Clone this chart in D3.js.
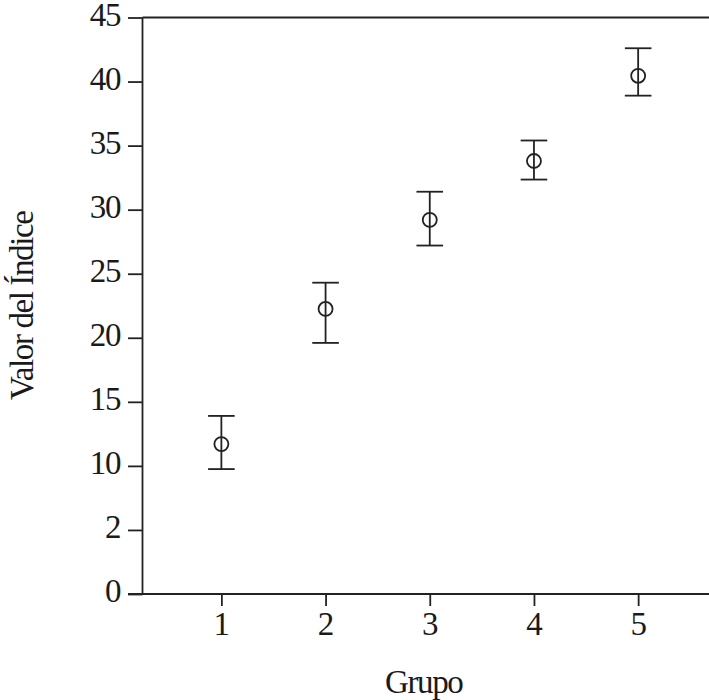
<!DOCTYPE html>
<html>
<head>
<meta charset="utf-8">
<script src="https://cdn.jsdelivr.net/npm/d3@7"></script>
<style>
  html, body { margin: 0; padding: 0; background: #fff; }
  svg { display: block; }
  text { font-family: "Liberation Serif", "Times New Roman", serif; fill: #1a1a1a; }
</style>
</head>
<body>
<svg id="chart" width="709" height="700"></svg>
<script>
// ---- data ----
const groups = [1, 2, 3, 4, 5];
const means  = [11.7, 22.25, 29.2, 33.8, 40.45];
const upper  = [13.9, 24.3, 31.4, 35.4, 42.6];
const lower  = [9.75, 19.6, 27.2, 32.35, 38.9];
const yTickValues = [0, 5, 10, 15, 20, 25, 30, 35, 40, 45];
const yTickLabels = ["0", "2", "10", "15", "20", "25", "30", "35", "40", "45"];
const xTickLabels = ["1", "2", "3", "4", "5"];
const xTitle = "Grupo";
const yTitle = "Valor del Índice";

// ---- layout ----
const plotLeft = 142.5, plotRight = 709, plotTop = 17.5, plotBottom = 594;
const ink = "#222222";
const sw = 1.8;
const fs = 33;
const ls = -1.4;

const svg = d3.select("#chart");

const x = d3.scaleLinear().domain([0.243, 5.68]).range([plotLeft, plotRight]);
const y = d3.scaleLinear().domain([0, 45]).range([plotBottom, plotTop]);

// Y axis
const yAxis = d3.axisLeft(y)
  .tickValues(yTickValues)
  .tickFormat((d, i) => yTickLabels[i])
  .tickSize(14.5)
  .tickPadding(8);
const gy = svg.append("g").attr("transform", `translate(${plotLeft},0)`).call(yAxis);
gy.select(".domain").remove();
gy.selectAll(".tick line").attr("stroke", ink).attr("stroke-width", sw);
gy.selectAll(".tick text")
  .attr("font-size", fs)
  .attr("letter-spacing", ls)
  .attr("fill", "#1a1a1a")
  .attr("dy", "0.24em");

// X axis
const xAxis = d3.axisBottom(x)
  .tickValues(groups)
  .tickFormat((d, i) => xTickLabels[i])
  .tickSize(12)
  .tickPadding(29);
const gx = svg.append("g").attr("transform", `translate(0,${plotBottom})`).call(xAxis);
gx.select(".domain").remove();
gx.selectAll(".tick line").attr("stroke", ink).attr("stroke-width", sw);
gx.selectAll(".tick text")
  .attr("font-size", fs)
  .attr("fill", "#1a1a1a")
  .attr("dy", "0");

// Frame lines: left axis, top border, bottom axis
svg.append("line").attr("x1", plotLeft).attr("x2", plotLeft).attr("y1", y(45)).attr("y2", y(0))
  .attr("stroke", ink).attr("stroke-width", sw);
svg.append("line").attr("x1", plotLeft).attr("x2", plotRight).attr("y1", y(45)).attr("y2", y(45))
  .attr("stroke", ink).attr("stroke-width", sw);
svg.append("line").attr("x1", plotLeft - 14.5).attr("x2", plotRight).attr("y1", y(0)).attr("y2", y(0))
  .attr("stroke", ink).attr("stroke-width", sw);

// Error bars
const capHalf = 13.3;
const r = 7;
const pts = groups.map((g, i) => ({ g, m: means[i], hi: upper[i], lo: lower[i] }));
const eb = svg.append("g").attr("stroke", ink).attr("stroke-width", sw).attr("fill", "none");
pts.forEach(p => {
  const cx = x(p.g);
  eb.append("line").attr("x1", cx).attr("x2", cx).attr("y1", y(p.hi)).attr("y2", y(p.lo));
  eb.append("line").attr("x1", cx - capHalf).attr("x2", cx + capHalf).attr("y1", y(p.hi)).attr("y2", y(p.hi));
  eb.append("line").attr("x1", cx - capHalf).attr("x2", cx + capHalf).attr("y1", y(p.lo)).attr("y2", y(p.lo));
  eb.append("circle").attr("cx", cx).attr("cy", y(p.m)).attr("r", r);
});

// Titles
svg.append("text")
  .attr("x", (plotLeft + plotRight) / 2 - 2)
  .attr("y", 693)
  .attr("text-anchor", "middle")
  .attr("font-size", fs)
  .attr("letter-spacing", ls)
  .text(xTitle);

svg.append("text")
  .attr("transform", `translate(33, ${(plotTop + plotBottom) / 2}) rotate(-90)`)
  .attr("text-anchor", "middle")
  .attr("font-size", fs)
  .attr("letter-spacing", ls)
  .text(yTitle);
</script>
</body>
</html>
